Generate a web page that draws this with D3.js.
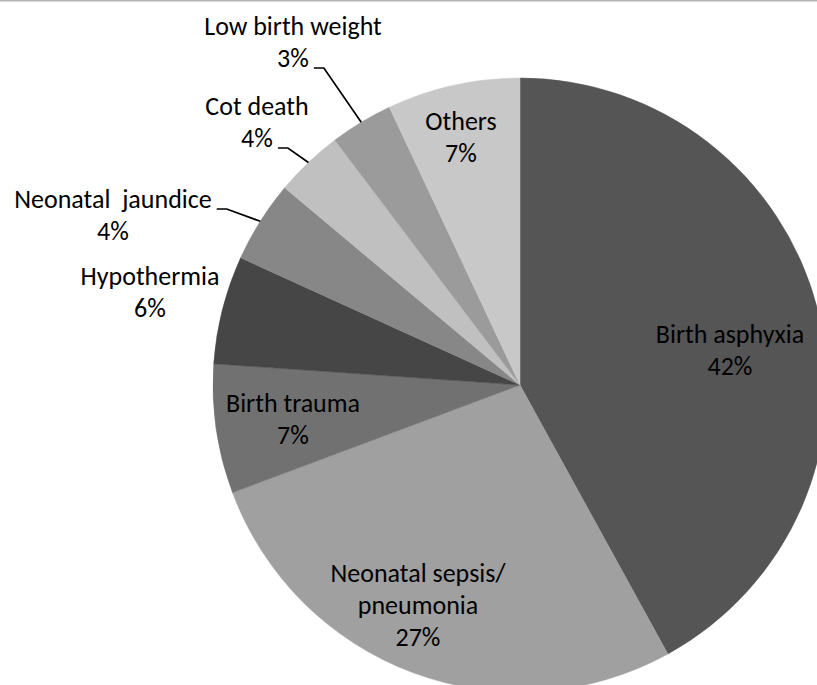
<!DOCTYPE html>
<html><head><meta charset="utf-8">
<script src="https://cdn.jsdelivr.net/npm/d3@7"></script>
<style>
html,body{margin:0;padding:0;background:#fff;}
svg{display:block;}
text{font-family:Carlito, Lato, "Open Sans", sans-serif;}
</style></head>
<body>
<svg id="chart" width="817" height="685"></svg>
<script>
// ---- data ----
const categories = ["Birth asphyxia","Neonatal sepsis/\npneumonia","Birth trauma","Hypothermia","Neonatal  jaundice","Cot death","Low birth weight","Others"];
const values = [42.0, 27.3, 6.8, 5.7, 4.3, 3.6, 3.3, 7.0];
const sliceColors = ["#555555","#a0a0a0","#717171","#464646","#878787","#c0c0c0","#9b9b9b","#c8c8c8"];

// ---- layout (label anchors: centre x, first baseline y; leader flag) ----
const labelLayout = [
  {x:730, y:343, leader:false},
  {x:418, y:582, leader:false},
  {x:293, y:412, leader:false},
  {x:150, y:285, leader:false},
  {x:113, y:208, leader:true, lineIdx:0},
  {x:257, y:115, leader:true, lineIdx:1},
  {x:293, y:35,  leader:true, lineIdx:1}
  ,{x:461, y:130, leader:false}
];

const svg = d3.select("#chart");
const W = 817, H = 685;
const cx = 520, cy = 385, R = 307;
const lineGap = 32;
const fontSize = 26;

svg.append("line").attr("x1",0).attr("x2",W).attr("y1",0.75).attr("y2",0.75)
  .attr("stroke","#b3b3b3").attr("stroke-width",1.5);

const color = d3.scaleOrdinal().domain(categories).range(sliceColors);
const pie = d3.pie().sort(null).value(d => d.v);
const arc = d3.arc().innerRadius(0).outerRadius(R);
const data = categories.map((c,i)=>({c, v:values[i], i}));
const arcs = pie(data);

const g = svg.append("g").attr("transform",`translate(${cx},${cy})`);
g.selectAll("path").data(arcs).enter().append("path")
  .attr("d", arc).attr("fill", d => color(d.data.c))
  .attr("stroke", d => color(d.data.c)).attr("stroke-width",0.5);

const total = d3.sum(values);
arcs.forEach((a,i) => {
  const L = labelLayout[i];
  const lines = a.data.c.split("\n").concat([Math.round(a.data.v/total*100) + "%"]);
  const t = svg.append("text").attr("text-anchor","middle")
    .attr("font-size", fontSize).attr("fill","#000");
  lines.forEach((ln,k) => {
    t.append("tspan").attr("x", L.x).attr("y", L.y + k*lineGap)
      .style("white-space","pre").text(ln);
  });
  if (L.leader) {
    const tsp = t.selectAll("tspan").nodes()[L.lineIdx];
    const w = tsp.getComputedTextLength();
    const ly = L.y + L.lineIdx*lineGap + 1;
    const x0 = L.x + w/2 + 5;
    const x1 = x0 + 10;
    const mid = (a.startAngle + a.endAngle)/2;
    const ax = cx + R*Math.sin(mid), ay = cy - R*Math.cos(mid);
    svg.append("path")
      .attr("d", d3.line()([[x0,ly],[x1,ly],[ax,ay]]))
      .attr("fill","none").attr("stroke","#000").attr("stroke-width",1.7);
  }
});
</script>
</body></html>
